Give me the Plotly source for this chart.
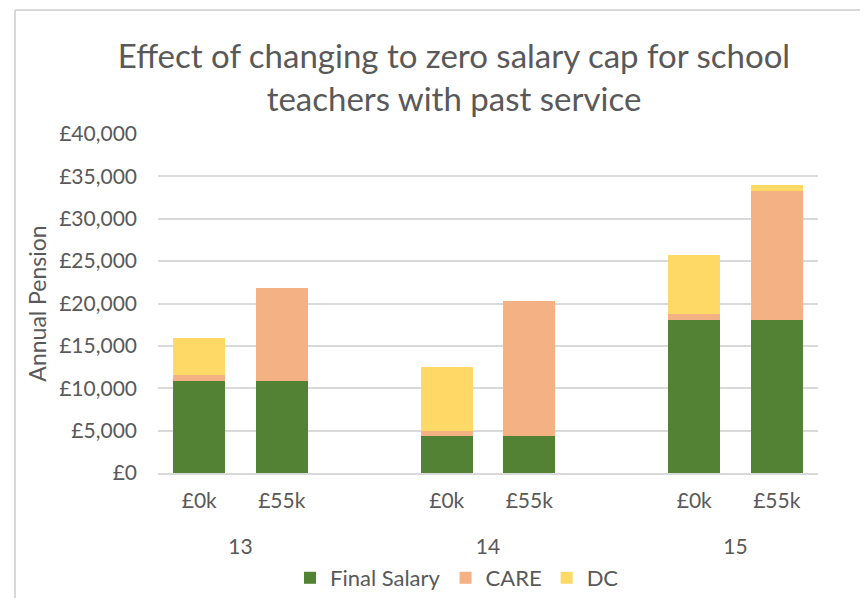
import plotly.graph_objects as go

groups = ["13", "14", "15"]
caps = ["£0k", "£55k"]
final_salary = [10800, 10800, 4400, 4400, 18000, 18000]
care = [750, 11000, 600, 15900, 750, 15300]
dc = [4400, 0, 7550, 0, 6950, 700]

colors = {"Final Salary": "#548235", "CARE": "#F4B183", "DC": "#FFD966"}

# build multi-category x with spacer slots between groups
lvl1, lvl2, idx = [], [], []
k = 0
for gi, g in enumerate(groups):
    for c in caps:
        lvl1.append("<br>" + g); lvl2.append(c); idx.append(k); k += 1
    if gi < len(groups) - 1:
        lvl1.append(" " * (gi + 1)); lvl2.append(" "); idx.append(None)

def expand(vals):
    return [vals[i] if i is not None else None for i in idx]

font_family = "Lato, Open Sans, sans-serif"
txt = "#595959"

# page body has an 8px offset; margins compensate so plot area sits at x 158-818, y 134-473
OFF = 8
L, R, T, B = 158 - OFF, 868 - 818 + OFF, 134 - OFF, 598 - 473 + OFF
PW, PH = 868 - L - R, 598 - T - B

fig = go.Figure()
for name, vals in [("Final Salary", final_salary), ("CARE", care), ("DC", dc)]:
    fig.add_trace(go.Bar(x=[lvl1, lvl2], y=expand(vals), name=name,
                         marker=dict(color=colors[name], line=dict(width=0))))

fig.update_layout(
    barmode="stack",
    bargap=0.37,
    width=868, height=598,
    paper_bgcolor="white", plot_bgcolor="white",
    margin=dict(l=L, r=R, t=T, b=B, autoexpand=False),
    font=dict(family=font_family, color=txt, size=21),
    title=dict(text="Effect of changing to zero salary cap for school<br>teachers with past service",
               x=(454 - OFF) / 868, xanchor="center", y=0.90, yanchor="top",
               font=dict(size=33, color=txt, family=font_family)),
    showlegend=True,
    legend=dict(orientation="h", xref="container", x=(457 - OFF) / 868, xanchor="center",
                yref="container", y=1 - (578 - OFF) / 598, yanchor="middle",
                font=dict(size=22, color=txt), traceorder="normal", itemwidth=30),
    yaxis=dict(range=[0, 40000], dtick=5000, tickprefix="£", tickformat=",",
               gridcolor="#D9D9D9", gridwidth=1.5, zeroline=False, automargin=False,
               showline=False, ticks="", ticklabelstandoff=20,
               title=dict(text="Annual Pension", font=dict(size=23, color=txt), standoff=6),
               tickfont=dict(size=21, color=txt)),
    xaxis=dict(type="multicategory", showdividers=False, showline=True, automargin=False,
               linecolor="#D9D9D9", linewidth=1.5, ticks="", ticklabelstandoff=8,
               tickfont=dict(size=21, color=txt)),
)

fig.add_shape(type="line", xref="paper", yref="paper",
              x0=(15 - 158) / PW, x1=(15 - 158) / PW, y0=(473 - 10) / PH, y1=-1,
              line=dict(color="#D9D9D9", width=2))
fig.add_shape(type="line", xref="paper", yref="paper",
              x0=(15 - 158) / PW, x1=2, y0=(473 - 10) / PH, y1=(473 - 10) / PH,
              line=dict(color="#D9D9D9", width=2))

fig.write_html("out.html")
